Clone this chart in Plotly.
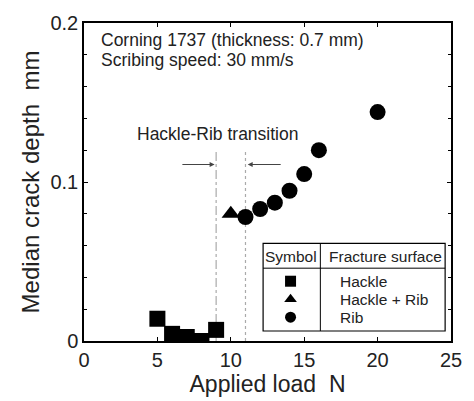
import plotly.graph_objects as go

hackle_load = [5, 6, 7, 8, 9]
hackle_depth = [0.014, 0.0045, 0.0025, 0.0, 0.007]
mixed_load = [10]
mixed_depth = [0.080]
rib_load = [11, 12, 13, 14, 15, 16, 20]
rib_depth = [0.078, 0.083, 0.087, 0.0945, 0.105, 0.120, 0.144]
transition_bounds = [9, 11]

FONT = "Liberation Sans, Arial, sans-serif"
fig = go.Figure()
ms = 16
fig.add_trace(go.Scatter(x=hackle_load, y=hackle_depth, mode="markers",
                         marker=dict(symbol="square", size=ms, color="black")))
fig.add_trace(go.Scatter(x=mixed_load, y=mixed_depth, mode="markers",
                         marker=dict(symbol="triangle-up", size=ms, color="black")))
fig.add_trace(go.Scatter(x=rib_load, y=rib_depth, mode="markers",
                         marker=dict(symbol="circle", size=ms, color="black")))

# legend table symbols
fig.add_trace(go.Scatter(x=[14.07, 14.07, 14.07], y=[0.0376, 0.0263, 0.0150], mode="markers",
                         marker=dict(symbol=["square", "triangle-up", "circle"], size=11, color="black"),
                         hoverinfo="skip"))

shapes = []
shapes.append(dict(type="line", x0=transition_bounds[0], x1=transition_bounds[0], y0=0, y1=0.12,
                   line=dict(color="#999", width=1, dash="dashdot"), layer="below"))
shapes.append(dict(type="line", x0=transition_bounds[1], x1=transition_bounds[1], y0=0, y1=0.12,
                   line=dict(color="#aaa", width=1.2, dash="dot"), layer="below"))
shapes.append(dict(type="rect", x0=12.2, x1=24.6, y0=0.0063, y1=0.0614,
                   line=dict(color="black", width=1.2), fillcolor="white", layer="below"))
shapes.append(dict(type="line", x0=12.2, x1=24.6, y0=0.0458, y1=0.0458,
                   line=dict(color="black", width=1)))
shapes.append(dict(type="line", x0=16.1, x1=16.1, y0=0.0063, y1=0.0614,
                   line=dict(color="black", width=1)))

ann = []
tf = dict(family=FONT, size=17.5, color="#222")
ann.append(dict(x=1.0, y=0.189, xref="x", yref="y", text="Corning 1737 (thickness: 0.7 mm)",
                showarrow=False, xanchor="left", yanchor="middle", font=tf))
ann.append(dict(x=1.0, y=0.1765, xref="x", yref="y", text="Scribing speed: 30 mm/s",
                showarrow=False, xanchor="left", yanchor="middle", font=tf))
ann.append(dict(x=9.1, y=0.130, xref="x", yref="y", text="Hackle-Rib transition",
                showarrow=False, xanchor="center", yanchor="middle", font=tf))
ann.append(dict(x=8.9, y=0.111, ax=6.6, ay=0.111, xref="x", yref="y", axref="x", ayref="y",
                text="", showarrow=True, arrowhead=2, arrowsize=1, arrowwidth=1, arrowcolor="#444"))
ann.append(dict(x=11.15, y=0.111, ax=13.5, ay=0.111, xref="x", yref="y", axref="x", ayref="y",
                text="", showarrow=True, arrowhead=2, arrowsize=1, arrowwidth=1, arrowcolor="#444"))
lf = dict(family=FONT, size=15.5, color="#222")
ann.append(dict(x=14.07, y=0.0534, xref="x", yref="y", text="Symbol", showarrow=False,
                xanchor="center", yanchor="middle", font=lf))
ann.append(dict(x=20.55, y=0.0534, xref="x", yref="y", text="Fracture surface", showarrow=False,
                xanchor="center", yanchor="middle", font=lf))
for yy, t in zip([0.0376, 0.0263, 0.0150], ["Hackle", "Hackle + Rib", "Rib"]):
    ann.append(dict(x=17.3, y=yy, xref="x", yref="y", text=t, showarrow=False,
                    xanchor="left", yanchor="middle", font=lf))

axis_common = dict(showgrid=False, zeroline=False, showline=True, linecolor="black", linewidth=1.5,
                   mirror="ticks", ticks="inside", tickcolor="black", ticklen=4,
                   tickfont=dict(family=FONT, size=20, color="#222"))
fig.update_layout(
    width=474, height=401,
    margin=dict(l=84, r=14, t=22, b=60),
    paper_bgcolor="white", plot_bgcolor="white",
    showlegend=False,
    shapes=shapes, annotations=ann,
    xaxis=dict(range=[0, 25], tickvals=[0, 5, 10, 15, 20, 25],
               title=dict(text="Applied load  N", font=dict(family=FONT, size=23, color="#222"), standoff=2),
               **axis_common),
    yaxis=dict(range=[0, 0.2], tickvals=[0, 0.1, 0.2], ticktext=["0", "0.1", "0.2"],
               minor=dict(dtick=0.02, ticks="inside", ticklen=3, tickcolor="black"),
               title=dict(text="Median crack depth  mm", font=dict(family=FONT, size=24, color="#222"), standoff=4),
               **axis_common),
)
fig.write_html("out.html")
